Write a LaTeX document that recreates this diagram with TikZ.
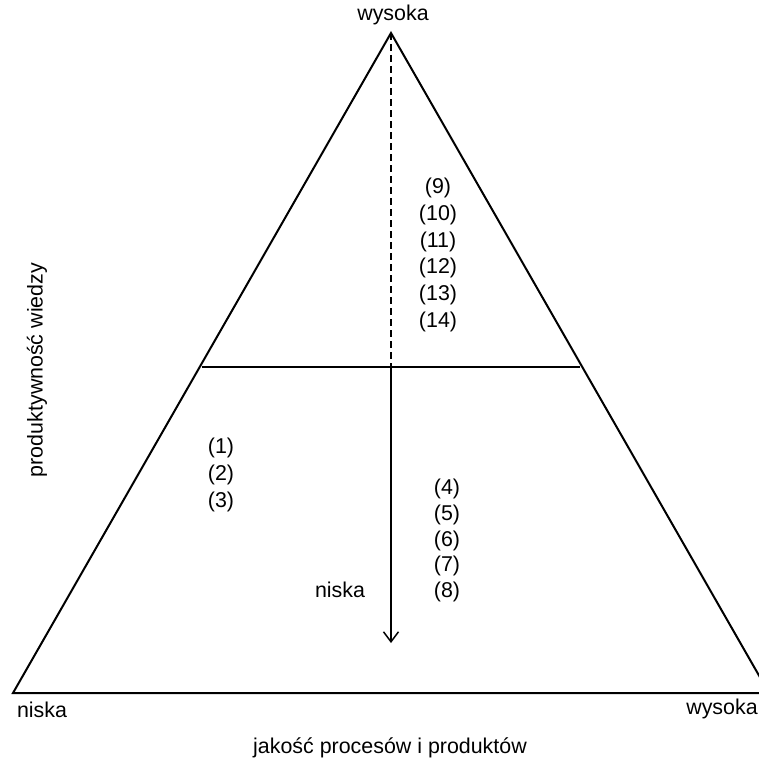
\documentclass[tikz,border=0pt]{standalone}
\usepackage{fontspec}
\setmainfont{Liberation Sans}
\usetikzlibrary{positioning, arrows.meta}

\begin{document}
\begin{tikzpicture}[x=1pt, y=-1pt,
      font=\fontsize{21.4}{25}\selectfont,
      edge/.style={draw, line width=2pt, line join=miter},
      lbl/.style={inner sep=0pt, anchor=center},
      >={Straight Barb[length=10pt, width=15pt, line width=1.5pt]}
    ]
    \useasboundingbox (0,0) rectangle (758,760);

    % Ecken des Dreiecks
    \coordinate (top)   at (391,33);
    \coordinate (left)  at (13,693);
    \coordinate (right) at (769,693);
    \coordinate (ml)    at (202,367);
    \coordinate (mr)    at (580,367);
    \coordinate (mid)   at (391,367);
    \coordinate (tip)   at (391,643);

    \draw[edge] (top) -- (left) -- (right) -- cycle;
    \draw[edge] (ml) -- (mr);

    % Achse innen: gestrichelt oben, Pfeil unten
    \draw[line width=1.2pt, dash pattern=on 7pt off 4pt] (top) -- (mid);
    \draw[->, line width=1.5pt] (mid) -- (tip);

    % Achsenbeschriftungen
    \node[lbl] (hiTop)   at (393,15)  {wysoka};
    \node[lbl] (loLeft)  at (42,710)  {niska};
    \node[lbl] (hiRight) at (722,709) {wysoka};
    \node[lbl] (loMid)   at (340,590) {niska};
    \node[lbl] (xlab)    at (390,748) {jakość procesów i produktów};
    \node[lbl, rotate=90] (ylab) at (37,370) {produktywność wiedzy};

    % Nummern
    \foreach \n [count=\i from 0] in {9,...,14}
      \node[lbl] (n\n) at (438,188+26.8*\i) {(\n)};
    \foreach \n [count=\i from 0] in {1,2,3}
      \node[lbl] (n\n) at (221,448+27*\i) {(\n)};
    \foreach \n [count=\i from 0] in {4,...,8}
      \node[lbl] (n\n) at (447,489+25.8*\i) {(\n)};
  \end{tikzpicture}
\end{document}
